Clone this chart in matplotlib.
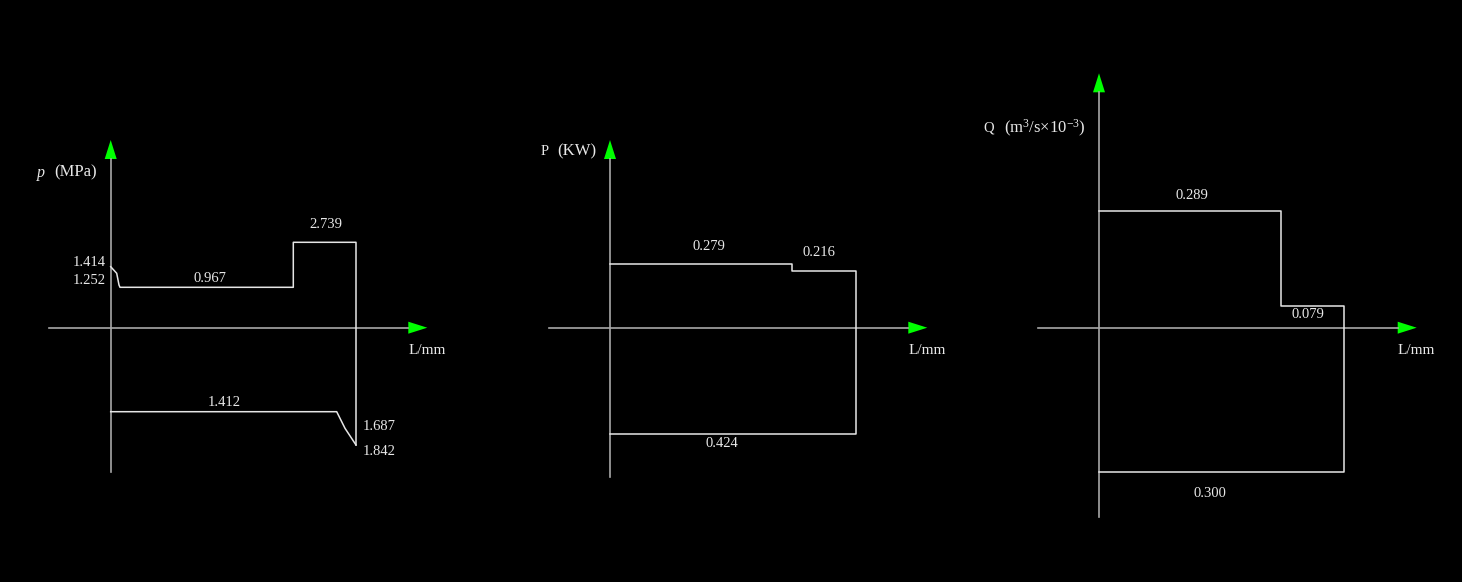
import matplotlib
matplotlib.use('agg')
import matplotlib.pyplot as plt

import numpy as np

plt.rcParams['font.family'] = ['Liberation Serif', 'DejaVu Serif']
plt.rcParams['mathtext.fontset'] = 'custom'
plt.rcParams['mathtext.rm'] = 'Liberation Serif'
plt.rcParams['mathtext.it'] = 'Liberation Serif:italic'

W, H = 1462, 582
LINE = '#e6e6e6'
AXIS = '#a8a8a8'
ARROW = '#00ff00'
TXT = '#e8e8e8'
FS = 10.5
FS_LAB = 12

### schematic values (drawing units along shaft / diagram height)

# pressure p (MPa)
p_upper_x = [0, 6, 8.3, 9.3, 182.6, 182.6, 245.3, 245.3]
p_upper_y = [61, 54.4, 42.7, 40.4, 40.4, 85.4, 85.4, -117.3]
p_lower_x = [0, 226, 234.3, 237.6, 245.3]
p_lower_y = [-84, -84, -100.6, -105.6, -117.3]
p_labels = ['1.414', '1.252', '0.967', '2.739', '1.412', '1.687', '1.842']

# power P (KW)
pw_x = [0, 182.3, 182.3, 245.7, 245.7, 0]
pw_y = [63.7, 63.7, 56.7, 56.7, -106.3, -106.3]
pw_labels = ['0.279', '0.216', '0.424']

# flow Q (m3/s x 10^-3)
q_x = [0, 182, 182, 245.3, 245.3, 0]
q_y = [116.7, 116.7, 22, 22, -144.6, -144.6]
q_labels = ['0.289', '0.079', '0.300']

# axis extents per panel: (x_min, x_tip, y_min, y_tip)
p_axes = (-61.4, 316.6, -144, 187.7)
pw_axes = (-60.7, 317.3, -149, 187.7)
q_axes = (-60.7, 317.7, -189, 254.4)


def panel(fig, ox, oy, axes_ext):
    # full-figure transparent axes, origin at pixel (ox, oy), 1 unit = 1 px
    ax = fig.add_axes([0, 0, 1, 1])
    ax.set_xlim(-ox, W - ox)
    ax.set_ylim(-(H - oy), oy)
    ax.axis('off')
    ax.patch.set_alpha(0)
    x0, x1, y0, y1 = axes_ext
    alen, ahw = 19, 6
    ax.plot([x0, x1 - alen], [0, 0], color=AXIS, lw=1.2)
    ax.plot([0, 0], [y0, y1 - alen], color=AXIS, lw=1.2)
    ax.fill([x1 - alen, x1, x1 - alen], [ahw, 0, -ahw], color=ARROW, lw=0)
    ax.fill([-ahw, 0, ahw], [y1 - alen, y1, y1 - alen], color=ARROW, lw=0)
    ax.text(x1, -23, 'L/mm', color=TXT, fontsize=FS + 0.5, ha='center', va='center')
    return ax


fig = plt.figure(figsize=(W / 100, H / 100), dpi=100, facecolor='black')

# panel 1
ax = panel(fig, 110.7, 327.7, p_axes)
ax.plot(p_upper_x, p_upper_y, color=LINE, lw=1.1)
ax.plot(p_lower_x, p_lower_y, color=LINE, lw=1.1)
pos = [(-4.7, 64.7, 'right'), (-4.7, 46.7, 'right'), (99.3, 49.4, 'center'),
       (215.3, 103.4, 'center'), (113.6, -74.6, 'center'),
       (251.6, -99, 'left'), (251.6, -124, 'left')]
for s, (x, y, ha) in zip(p_labels, pos):
    ax.text(x, y, s, color=TXT, fontsize=FS, ha=ha, va='center')
ax.text(-13.5, 155.5, '(MPa)', color=TXT, fontsize=FS_LAB, ha='right', va='center')
ax.text(-65.5, 154.7, 'p', color=TXT, fontsize=FS + 1, ha='right', va='center', style='italic')

# panel 2
ax = panel(fig, 610, 327.7, pw_axes)
ax.plot(pw_x, pw_y, color=LINE, lw=1.1)
pos = [(99, 81), (209.3, 75.4), (112.3, -115.6)]
for s, (x, y) in zip(pw_labels, pos):
    ax.text(x, y, s, color=TXT, fontsize=FS, ha='center', va='center')
ax.text(-13.5, 176.5, '(KW)', color=TXT, fontsize=FS_LAB, ha='right', va='center')
ax.text(-61.5, 176.5, 'P', color=TXT, fontsize=FS, ha='right', va='center')

# panel 3
ax = panel(fig, 1099, 327.7, q_axes)
ax.plot(q_x, q_y, color=LINE, lw=1.1)
pos = [(92.7, 132), (209.3, 12.7), (111, -165.6)]
for s, (x, y) in zip(q_labels, pos):
    ax.text(x, y, s, color=TXT, fontsize=FS, ha='center', va='center')
ax.text(-13.5, 199.4, r'(m$^3$/s×10$^{-3}$)', color=TXT, fontsize=FS_LAB, ha='right', va='center')
ax.text(-105.5, 199.4, 'Q', color=TXT, fontsize=FS, ha='right', va='center')

plt.savefig('out.png', format='png', facecolor='black', dpi=100)
